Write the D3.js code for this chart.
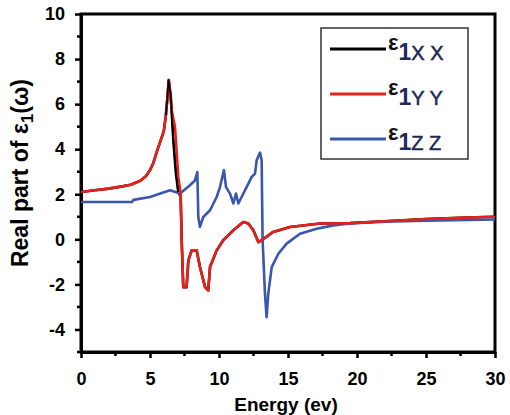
<!DOCTYPE html>
<html>
<head>
<meta charset="utf-8">
<script src="https://cdn.jsdelivr.net/npm/d3@7"></script>
<style>
  body { margin: 0; background: #fff; }
  svg { display: block; }
</style>
</head>
<body>
<div class="container"></div>
<script>
// energy (eV) and real part of eps1
const energyYY = [0, 1, 2, 3, 3.6, 4.3, 4.7, 5.0, 5.25, 5.5, 5.75, 6.0, 6.15, 6.25, 6.38, 6.57, 6.81, 7.05, 7.22, 7.3, 7.41, 7.65, 7.78, 8.02, 8.38, 8.62, 8.99, 9.22, 9.35, 9.83, 10.31, 11.04, 11.76, 12.12, 12.49, 12.85, 13.09, 13.93, 15.14, 17.32, 19.5, 22, 25, 28, 30];
const epsYY    = [2.1, 2.18, 2.25, 2.35, 2.42, 2.6, 2.8, 3.07, 3.4, 3.9, 4.35, 4.8, 5.5, 6.2, 7.03, 5.73, 4.99, 2.77, 2.03, -0.12, -2.12, -2.12, -0.93, -0.49, -0.49, -1.23, -2.12, -2.27, -1.23, -0.49, -0.04, 0.4, 0.77, 0.7, 0.4, -0.12, -0.04, 0.33, 0.55, 0.7, 0.72, 0.8, 0.9, 0.97, 1.0];

const energyXX = [0, 1, 2, 3, 3.6, 4.3, 4.7, 5.0, 5.25, 5.5, 5.75, 6.0, 6.15, 6.25, 6.35, 6.5, 6.69, 6.88, 7.05, 7.22, 7.3, 7.41, 7.65, 7.78, 8.02, 8.38, 8.62, 8.99, 9.22, 9.35, 9.83, 10.31, 11.04, 11.76, 12.12, 12.49, 12.85, 13.09, 13.93, 15.14, 17.32, 19.5, 22, 25, 28, 30];
const epsXX    = [2.1, 2.18, 2.25, 2.35, 2.42, 2.6, 2.8, 3.07, 3.4, 3.9, 4.35, 4.8, 5.5, 6.2, 7.07, 6.4, 4.4, 2.92, 2.1, 1.9, -0.12, -2.12, -2.12, -0.93, -0.49, -0.49, -1.23, -2.12, -2.27, -1.23, -0.49, -0.04, 0.4, 0.77, 0.7, 0.4, -0.12, -0.04, 0.33, 0.55, 0.7, 0.72, 0.8, 0.9, 0.97, 1.0];

const energyZZ = [0, 3.7, 3.8, 5.0, 6.45, 7.17, 7.9, 8.26, 8.43, 8.5, 8.62, 8.86, 9.35, 9.83, 10.07, 10.36, 10.51, 10.8, 11.04, 11.23, 11.4, 11.64, 12.0, 12.37, 12.61, 12.73, 12.97, 13.09, 13.16, 13.33, 13.45, 13.57, 13.82, 14.3, 14.9, 15.87, 17.08, 18.28, 19.5, 22, 25, 28, 30];
const epsZZ    = [1.66, 1.66, 1.75, 1.88, 2.18, 2.03, 2.4, 2.62, 2.99, 0.99, 0.55, 0.99, 1.29, 1.88, 2.32, 3.07, 2.32, 2.03, 1.59, 2.03, 1.59, 1.88, 2.32, 2.77, 2.92, 3.51, 3.85, 3.51, -0.04, -2.41, -3.45, -2.41, -1.23, -0.64, -0.19, 0.25, 0.47, 0.62, 0.7, 0.78, 0.83, 0.86, 0.88];

const xTicks = [0, 5, 10, 15, 20, 25, 30];
const yTicks = [-4, -2, 0, 2, 4, 6, 8, 10];

const seriesNames = ["XX", "YY", "ZZ"];
const seriesColors = ["#000000", "#e8201c", "#3a56ad"];

const width = 510, height = 415;
const margin = { left: 81, right: 15, top: 14, bottom: 63 };

const svg = d3.select(".container").append("svg")
  .attr("width", width)
  .attr("height", height);

const x = d3.scaleLinear().domain([0, 30]).range([margin.left, width - margin.right]);
const y = d3.scaleLinear().domain([-5, 10]).range([height - margin.bottom, margin.top]);

const font = "Arial, 'Liberation Sans', sans-serif";

// frame
svg.append("rect")
  .attr("x", x(0)).attr("y", y(10))
  .attr("width", x(30) - x(0)).attr("height", y(-5) - y(10))
  .attr("fill", "none").attr("stroke", "#000").attr("stroke-width", 3);

// x axis
const xAxis = svg.append("g")
  .attr("transform", `translate(0,${y(-5)})`)
  .call(d3.axisBottom(x).tickValues(xTicks).tickSize(6).tickPadding(14).tickSizeOuter(0));
xAxis.select(".domain").attr("stroke-width", 3);
xAxis.selectAll(".tick line").attr("stroke-width", 2.5);
xAxis.selectAll("text").attr("font-family", font).attr("font-size", 18).attr("font-weight", "bold");
// minor x ticks
svg.append("g").selectAll("line")
  .data(d3.range(2.5, 30, 5)).enter().append("line")
  .attr("x1", d => x(d)).attr("x2", d => x(d))
  .attr("y1", y(-5)).attr("y2", y(-5) + 4)
  .attr("stroke", "#000").attr("stroke-width", 2.5);

// y axis
const yAxis = svg.append("g")
  .attr("transform", `translate(${x(0)},0)`)
  .call(d3.axisLeft(y).tickValues(yTicks).tickSize(6).tickPadding(10).tickSizeOuter(0)
    .tickFormat(d => String(d)));
yAxis.select(".domain").attr("stroke-width", 3);
yAxis.selectAll(".tick line").attr("stroke-width", 2.5);
yAxis.selectAll("text").attr("font-family", font).attr("font-size", 18).attr("font-weight", "bold");
// minor y ticks
svg.append("g").selectAll("line")
  .data(d3.range(-5, 10, 2)).enter().append("line")
  .attr("x1", x(0) - 4).attr("x2", x(0))
  .attr("y1", d => y(d)).attr("y2", d => y(d))
  .attr("stroke", "#000").attr("stroke-width", 2.5);

// curves
const line = d3.line().x(d => x(d[0])).y(d => y(d[1]));
const series = [
  d3.zip(energyXX, epsXX),
  d3.zip(energyYY, epsYY),
  d3.zip(energyZZ, epsZZ)
];
// draw XX first, then ZZ, then YY on top like the original
[0, 2, 1].forEach(i => {
  svg.append("path")
    .datum(series[i])
    .attr("d", line)
    .attr("fill", "none")
    .attr("stroke", seriesColors[i])
    .attr("stroke-width", 2.6)
    .attr("stroke-linejoin", "round");
});
// black shows through at the peak
svg.append("path")
  .datum(series[0].filter(d => d[0] >= 6.15 && d[0] <= 7.1))
  .attr("d", line)
  .attr("fill", "none")
  .attr("stroke", "#000")
  .attr("stroke-width", 1.6);

// legend
const legend = svg.append("g");
legend.append("rect")
  .attr("x", 321).attr("y", 28).attr("width", 147).attr("height", 131)
  .attr("fill", "#fff").attr("stroke", "#333").attr("stroke-width", 1.5);
seriesNames.forEach((name, i) => {
  const ly = 49 + i * 45;
  legend.append("line")
    .attr("x1", 330).attr("x2", 386).attr("y1", ly).attr("y2", ly)
    .attr("stroke", seriesColors[i]).attr("stroke-width", 3);
  const t = legend.append("text")
    .attr("x", 388).attr("y", ly + 1)
    .attr("font-family", "'Liberation Sans', Arial, sans-serif")
    .attr("font-weight", "bold")
    .attr("fill", "#1c2a57");
  t.append("tspan").attr("font-size", 22).attr("fill", "#111").text("ε");
  t.append("tspan").attr("dy", 10).attr("font-size", 23).text("1");
  t.append("tspan").attr("font-size", 20).attr("font-weight", "normal").attr("stroke", "#1c2a57").attr("stroke-width", 0.5).text(name[0] + " " + name[1]);
});

// axis titles
svg.append("text")
  .attr("x", x(15) - 2).attr("y", 411)
  .attr("text-anchor", "middle")
  .attr("font-family", font).attr("font-size", 19).attr("font-weight", "bold")
  .text("Energy (ev)");

const yt = svg.append("text")
  .attr("transform", `translate(28,${(y(-5) + y(10)) / 2 - 10}) rotate(-90)`)
  .attr("text-anchor", "middle")
  .attr("font-family", font).attr("font-size", 23).attr("font-weight", "bold");
yt.append("tspan").text("Real part of ε");
yt.append("tspan").attr("dy", 5).attr("font-size", 17).text("1");
yt.append("tspan").attr("dy", -5).text("(ω)");
</script>
</body>
</html>
